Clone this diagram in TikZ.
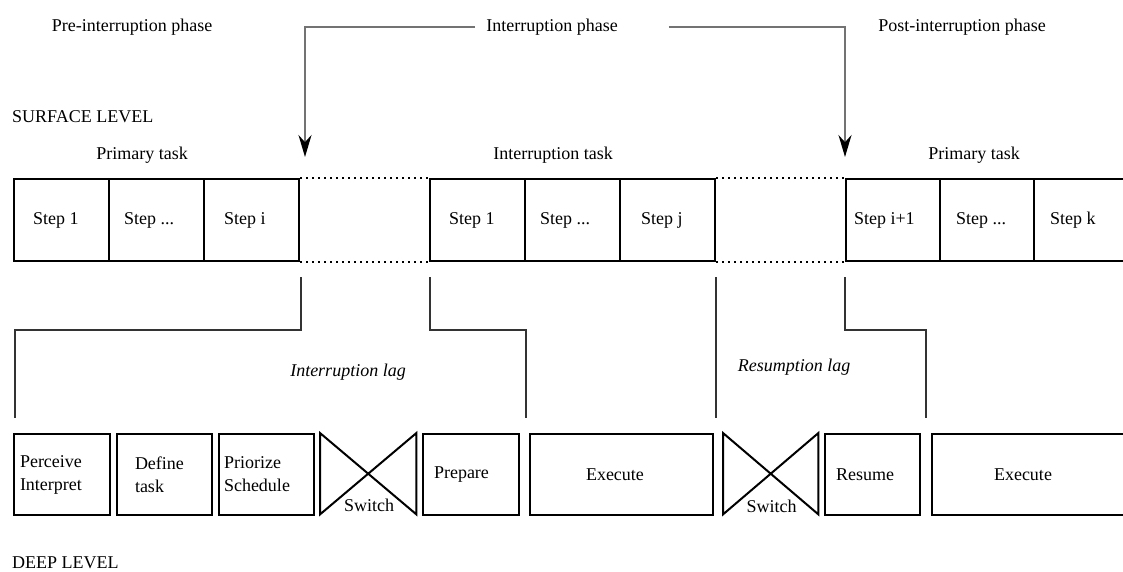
\documentclass[tikz,border=0pt]{standalone}
\usepackage{fontspec}
\setmainfont{Liberation Serif}
\usetikzlibrary{arrows.meta,calc}
\begin{document}
\begin{tikzpicture}[x=1pt,y=-1pt,
  every node/.style={font=\fontsize{18}{23}\selectfont},
  stepbox/.style={draw=black, line width=2pt, minimum height=82pt, anchor=north west, align=flush left, inner ysep=0pt},
  deepbox/.style={stepbox, minimum height=81pt},
  plain/.style={inner sep=0pt},
  dotline/.style={line width=2pt, dash pattern=on 2pt off 4pt},
  bracket/.style={line width=1.5pt, draw=black!80},
  arr/.style={line width=2pt, draw=black!55, -{Stealth[length=22pt,width=13pt,color=black]}},
  bowtie/.style={line width=2pt, draw=black}
]
\fill[white] (0,0) rectangle (1123,571);
\useasboundingbox (0,0) rectangle (1123,571);

% phase titles
\node[plain] (pre) at (132,27) {Pre-interruption phase};
\node[plain] (intph) at (552,27) {Interruption phase};
\node[plain] (post) at (962,27) {Post-interruption phase};
\node[plain, anchor=west] (surface) at (12,117) {SURFACE LEVEL};
\node[plain] (pt1) at (142,155) {Primary task};
\node[plain] (itask) at (553,155) {Interruption task};
\node[plain] (pt2) at (974,155) {Primary task};
\node[plain, anchor=west] (deep) at (12,563) {DEEP LEVEL};

% surface level steps
\node[stepbox, minimum width=95pt, text width=57pt, inner xsep=19pt] (s1) at (13,178) {Step 1};
\node[stepbox, minimum width=95pt, text width=65pt, inner xsep=15pt] (s2) at (108,178) {Step ...};
\node[stepbox, minimum width=95pt, text width=55pt, inner xsep=20pt] (s3) at (203,178) {Step i};
\node[stepbox, minimum width=95pt, text width=57pt, inner xsep=19pt] (i1) at (429,178) {Step 1};
\node[stepbox, minimum width=95pt, text width=65pt, inner xsep=15pt] (i2) at (524,178) {Step ...};
\node[stepbox, minimum width=95pt, text width=53pt, inner xsep=21pt] (i3) at (619,178) {Step j};
\node[stepbox, minimum width=94pt, text width=78pt, inner xsep=8pt] (p1) at (845,178) {Step i+1};
\node[stepbox, minimum width=94pt, text width=62pt, inner xsep=16pt] (p2) at (939,178) {Step ...};
\node[stepbox, minimum width=92pt, text width=60pt, inner xsep=16pt] (p3) at (1033,178) {Step k};

\draw[dotline] (s3.north east) -- (i1.north west);
\draw[dotline] (s3.south east) -- (i1.south west);
\draw[dotline] (i3.north east) -- (p1.north west);
\draw[dotline] (i3.south east) -- (p1.south west);

% arrows
\coordinate (a1) at ($(s3.north east)+(5,-21)$);
\coordinate (a2) at ($(p1.north west)+(0,-21)$);
\draw[arr] ($(intph.west)+(-11,0)$) -| (a1);
\draw[arr] ($(intph.east)+(51,0)$) -| (a2);

% deep level
\node[deepbox, minimum width=96pt, text width=84pt, inner xsep=6pt] (b1) at (13,433) {Perceive\\Interpret};
\node[deepbox, minimum width=95pt, text width=59pt, inner xsep=18pt] (b2) at (116,433) {Define\\task};
\node[deepbox, minimum width=95pt, text width=85pt, inner xsep=5pt] (b3) at (218,433) {Priorize\\Schedule};
\node[plain, minimum width=96pt, minimum height=81pt, anchor=north west] (b4) at (320,433) {};
\node[deepbox, minimum width=96pt, text width=74pt, inner xsep=11pt] (b5) at (422,433) {Prepare};
\node[deepbox, minimum width=183pt, text width=71pt, inner xsep=56pt] (b6) at (529,433) {Execute};
\node[plain, minimum width=95pt, minimum height=81pt, anchor=north west] (b7) at (723,433) {};
\node[deepbox, minimum width=95pt, text width=73pt, inner xsep=11pt] (b8) at (824,433) {Resume};
\node[deepbox, minimum width=194pt, text width=70pt, inner xsep=62pt] (b9) at (931,433) {Execute};

\draw[bowtie] (b4.north west) -- (b4.south east) -- (b4.north east) -- (b4.south west) -- cycle;
\draw[bowtie] (b7.north west) -- (b7.south east) -- (b7.north east) -- (b7.south west) -- cycle;
\node[plain] (sw1) at ($(b4.south)+(1,-9)$) {Switch};
\node[plain] (sw2) at ($(b7.south)+(1,-8)$) {Switch};

% lag brackets
\coordinate (lagbot) at (0,418);
\coordinate (l1) at ($(b1.north west)+(2,-15)$);
\coordinate (r4) at ($(b8.north east)!0.5!(b9.north west)+(0,-15)$);
\draw[bracket] ($(s3.south east)+(1,15)$) -- ++(0,53) -| (l1);
\draw[bracket] ($(i1.south west)+(1,15)$) -- ++(0,53) -| (i1.south east |- lagbot);
\draw[bracket] ($(i3.south east)+(0,15)$) -- (i3.south east |- lagbot);
\draw[bracket] ($(p1.south west)+(0,15)$) -- ++(0,53) -| (r4);

\node[plain, font=\fontsize{18}{23}\selectfont\itshape] (ilag) at (348,372) {Interruption lag};
\node[plain, font=\fontsize{18}{23}\selectfont\itshape] (rlag) at (794,367) {Resumption lag};
\end{tikzpicture}
\end{document}
